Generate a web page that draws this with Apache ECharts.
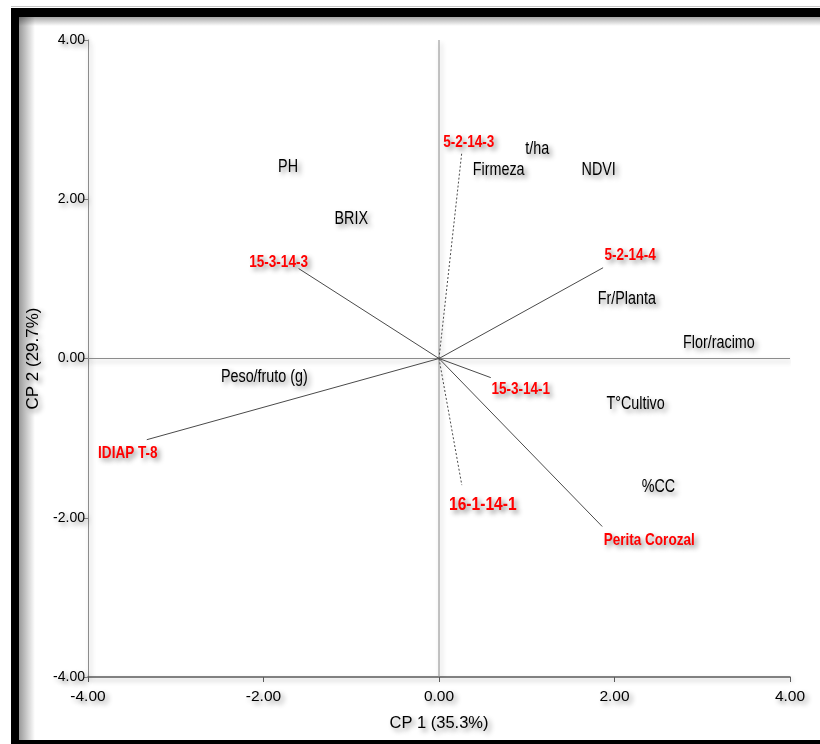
<!DOCTYPE html>
<html>
<head>
<meta charset="utf-8">
<title>Biplot CP1 vs CP2</title>
<script src="https://cdn.jsdelivr.net/npm/echarts@6/dist/echarts.min.js"></script>
<style>
  html, body { margin: 0; padding: 0; background: #fff; }
  #chart { width: 820px; height: 744px; }
</style>
</head>
<body>
<div id="chart"></div>
<script>
// Genotype scores (drawn as vectors from the origin)
const genotypes = ['5-2-14-3', '15-3-14-3', '5-2-14-4', 'IDIAP T-8', '15-3-14-1', '16-1-14-1', 'Perita Corozal'];
const genoCP1 = [0.26, -1.60, 1.87, -3.33, 0.59, 0.26, 1.86];
const genoCP2 = [2.59, 1.13, 1.14, -1.02, -0.24, -1.59, -2.11];

// Variable positions (drawn as labels only)
const variables = ['PH', 'BRIX', 't/ha', 'Firmeza', 'NDVI', 'Fr/Planta', 'Flor/racimo', 'Peso/fruto (g)', 'T°Cultivo', '%CC'];
const varCP1 = [-1.72, -1.00, 1.12, 0.68, 1.82, 2.14, 3.19, -1.99, 2.24, 2.50];
const varCP2 = [2.40, 1.75, 2.63, 2.36, 2.36, 0.74, 0.19, -0.23, -0.57, -1.61];

// Axis ticks
const axisMin = -4, axisMax = 4, axisStep = 2;

// Per-genotype drawing style: label offset in px, dotted vector, label size
const genoStyle = {
  '5-2-14-3':       { offset: [7, -10], dotted: true,  size: 16.5 },
  '15-3-14-3':      { offset: [-20, -6], dotted: false, size: 16.5 },
  '5-2-14-4':       { offset: [27, -12], dotted: false, size: 16.5 },
  'IDIAP T-8':      { offset: [-19, 14], dotted: false, size: 16.5 },
  '15-3-14-1':      { offset: [30, 12], dotted: false, size: 16.5 },
  '16-1-14-1':      { offset: [21, 20], dotted: true,  size: 19 },
  'Perita Corozal': { offset: [47, 14], dotted: false, size: 16.5 }
};

const SANS = "'Liberation Sans', Arial, sans-serif";
// horizontal squeeze giving the condensed lettering of the plot labels
const CONDENSE = 0.82;
const textShadow = {
  textShadowColor: 'rgba(0,0,0,0.45)',
  textShadowBlur: 5,
  textShadowOffsetX: 3,
  textShadowOffsetY: 3
};
const lineShadow = {
  shadowColor: 'rgba(0,0,0,0.3)',
  shadowBlur: 5,
  shadowOffsetX: 2,
  shadowOffsetY: 3
};

// condensed text label placed at a data point
function condensedText(api, x, y, text, font, color, offset) {
  const p = api.coord([x, y]);
  return {
    type: 'text',
    x: p[0] + offset[0],
    y: p[1] + offset[1],
    scaleX: CONDENSE,
    silent: true,
    style: Object.assign({
      text: text,
      font: font,
      fill: color,
      align: 'center',
      verticalAlign: 'middle',
      textAlign: 'center',
      textVerticalAlign: 'middle'
    }, textShadow)
  };
}

const series = [];

// Reference lines through the origin
series.push({
  type: 'line', symbol: 'none', silent: true, z: 1,
  data: [[axisMin, 0], [axisMax, 0]],
  lineStyle: Object.assign({ color: '#8c8c8c', width: 1 }, lineShadow)
});
series.push({
  type: 'line', symbol: 'none', silent: true, z: 1,
  data: [[0, axisMin], [0, axisMax]],
  lineStyle: Object.assign({ color: '#8c8c8c', width: 1 }, lineShadow)
});

// Genotype vectors
genotypes.forEach(function (g, i) {
  series.push({
    type: 'line', symbol: 'none', silent: true, z: 2,
    data: [[0, 0], [genoCP1[i], genoCP2[i]]],
    lineStyle: {
      color: '#4a4a4a',
      width: 1,
      type: genoStyle[g].dotted ? [2, 2] : 'solid'
    }
  });
});

// Genotype labels
series.push({
  type: 'custom', z: 5, silent: true,
  data: genotypes.map(function (g, i) { return [genoCP1[i], genoCP2[i]]; }),
  renderItem: function (params, api) {
    const g = genotypes[params.dataIndex];
    const st = genoStyle[g];
    return condensedText(api, api.value(0), api.value(1), g,
      'bold ' + st.size + 'px ' + SANS, '#ff0000', st.offset);
  }
});

// Variable labels
series.push({
  type: 'custom', z: 5, silent: true,
  data: variables.map(function (v, i) { return [varCP1[i], varCP2[i]]; }),
  renderItem: function (params, api) {
    return condensedText(api, api.value(0), api.value(1), variables[params.dataIndex],
      '17.5px ' + SANS, '#000', [0, 0]);
  }
});

// Frame around the chart: black bars with a soft inner shade
const frame = [
  { type: 'rect', shape: { x: 11, y: 6, width: 809, height: 1 }, style: { fill: '#c8c8c8' }, z: 10 },
  { type: 'rect', shape: { x: 11, y: 8, width: 809, height: 9 }, style: { fill: '#000' }, z: 10 },
  { type: 'rect', shape: { x: 11, y: 8, width: 8, height: 736 }, style: { fill: '#000' }, z: 10 },
  { type: 'rect', shape: { x: 11, y: 740, width: 809, height: 4 }, style: { fill: '#000' }, z: 10 },
  {
    type: 'rect', shape: { x: 19, y: 17, width: 16, height: 723 }, z: 9,
    style: { fill: new echarts.graphic.LinearGradient(0, 0, 1, 0, [
      { offset: 0, color: 'rgba(0,0,0,0.40)' },
      { offset: 1, color: 'rgba(0,0,0,0)' }
    ]) }
  },
  {
    type: 'rect', shape: { x: 19, y: 17, width: 801, height: 9 }, z: 9,
    style: { fill: new echarts.graphic.LinearGradient(0, 0, 0, 1, [
      { offset: 0, color: 'rgba(0,0,0,0.35)' },
      { offset: 1, color: 'rgba(0,0,0,0)' }
    ]) }
  }
];

const chart = echarts.init(document.getElementById('chart'), null, { renderer: 'canvas' });
chart.setOption({
  backgroundColor: '#fff',
  animation: false,
  graphic: frame,
  grid: { left: 88, right: 30, top: 40, bottom: 67, containLabel: false },
  xAxis: {
    type: 'value', min: axisMin, max: axisMax, interval: axisStep,
    name: 'CP 1 (35.3%)', nameLocation: 'middle', nameGap: 38,
    nameTextStyle: { fontFamily: SANS, fontSize: 16.5, color: '#000', ...textShadow },
    axisLine: { show: true, onZero: false, lineStyle: Object.assign({ color: '#5a5a5a', width: 1.5 }, lineShadow) },
    axisTick: { show: true, length: 5, lineStyle: { color: '#5a5a5a' } },
    axisLabel: {
      formatter: function (v) { return v.toFixed(2); },
      fontFamily: SANS, fontSize: 15.5, color: '#000', margin: 12, ...textShadow
    },
    splitLine: { show: false }
  },
  yAxis: {
    type: 'value', min: axisMin, max: axisMax, interval: axisStep,
    name: 'CP 2 (29.7%)', nameLocation: 'middle', nameGap: 46, nameRotate: 90,
    nameTextStyle: { fontFamily: SANS, fontSize: 17, color: '#000', ...textShadow },
    axisLine: { show: true, onZero: false, lineStyle: Object.assign({ color: '#8c8c8c', width: 1 }, lineShadow) },
    axisTick: { show: true, length: 4, lineStyle: { color: '#8c8c8c' } },
    axisLabel: {
      formatter: function (v) { return v.toFixed(2); },
      fontFamily: SANS, fontSize: 14, color: '#000', margin: 3, ...textShadow
    },
    splitLine: { show: false }
  },
  series: series
});
</script>
</body>
</html>
